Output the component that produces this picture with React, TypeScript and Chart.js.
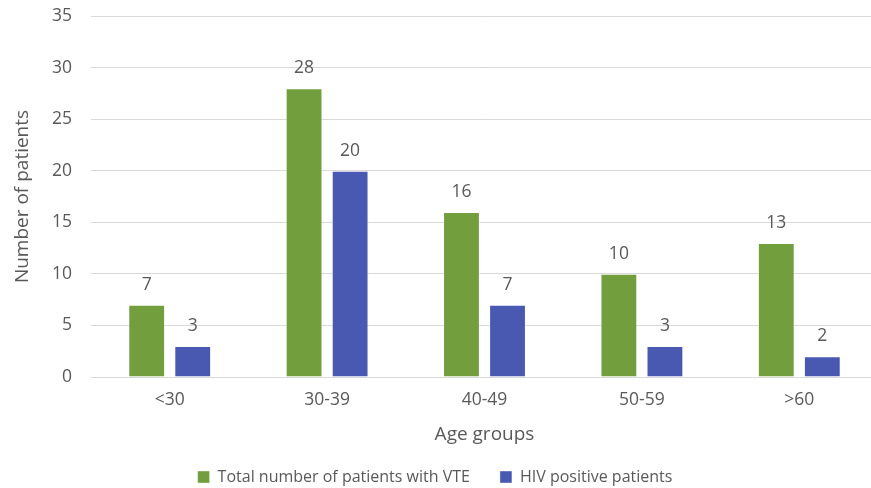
import React, { useEffect, useRef } from "react";
import { Chart, registerables } from "chart.js";

Chart.register(...registerables);

const categories = ["<30", "30-39", "40-49", "50-59", ">60"];
const totalVTE = [7, 28, 16, 10, 13];
const hivPositive = [3, 20, 7, 3, 2];
const seriesNames = ["Total number of patients with VTE", "HIV positive patients"];
const yTicks = [0, 5, 10, 15, 20, 25, 30, 35];

const FONT = "'Open Sans', sans-serif";
const TEXT = "#595959";

const dataLabels = {
  id: "dataLabels",
  afterDatasetsDraw(chart: any) {
    const ctx = chart.ctx;
    ctx.save();
    ctx.font = `17.5px ${FONT}`;
    ctx.fillStyle = TEXT;
    ctx.textAlign = "center";
    ctx.textBaseline = "middle";
    chart.data.datasets.forEach((ds: any, i: number) => {
      const meta = chart.getDatasetMeta(i);
      meta.data.forEach((bar: any, j: number) => {
        ctx.fillText(String(ds.data[j]), bar.x, bar.y - 20);
      });
    });
    ctx.restore();
  },
};

const legendFix = {
  id: "legendFix",
  beforeLayout(chart: any) {
    const l = chart.legend;
    if (l && !l.__patched) {
      const orig = l.fit;
      l.fit = function () {
        orig.call(this);
        this.height = 41;
      };
      l.__patched = true;
    }
  },
  afterLayout(chart: any) {
    const l = chart.legend;
    if (l) {
      l.left -= 4;
      l.right -= 4;
      l.top -= 8;
    }
  },
};

export default function App() {
  const ref = useRef<HTMLCanvasElement | null>(null);
  useEffect(() => {
    document.documentElement.style.overflow = "hidden";
    document.body.style.overflow = "hidden";
    const chart = new Chart(ref.current as HTMLCanvasElement, {
      type: "bar",
      data: {
        labels: categories,
        datasets: [
          {
            label: seriesNames[0],
            data: totalVTE,
            backgroundColor: "#739E3E",
            borderColor: "rgba(255,255,255,0.4)",
            borderWidth: 1,
          },
          {
            label: seriesNames[1],
            data: hivPositive,
            backgroundColor: "#4958B1",
            borderColor: "rgba(255,255,255,0.4)",
            borderWidth: 1,
          },
        ],
      },
      options: {
        animation: false,
        responsive: true,
        maintainAspectRatio: false,
        devicePixelRatio: 1,
        datasets: { bar: { categoryPercentage: 0.585, barPercentage: 0.8 } },
        layout: { padding: { top: 16, left: 0, right: 0, bottom: 0 } },
        plugins: {
          tooltip: { enabled: false },
          legend: {
            position: "bottom",
            labels: {
              boxWidth: 12,
              boxHeight: 12,
              padding: 30,
              color: TEXT,
              font: { family: FONT, size: 16 },
            },
          },
        },
        scales: {
          x: {
            grid: { display: false, drawTicks: false },
            border: { display: true, color: "#d9d9d9" },
            ticks: { color: TEXT, font: { family: FONT, size: 17.5 }, padding: 13 },
            title: {
              display: true,
              text: "Age groups",
              color: TEXT,
              font: { family: FONT, size: 19 },
              padding: { top: 0, bottom: 1 },
            },
            afterFit: (s: any) => {
              s.height = 70;
              s.paddingLeft = 0;
              s.paddingRight = 0;
            },
          },
          y: {
            min: 0,
            max: 35,
            afterBuildTicks: (s: any) => {
              s.ticks = yTicks.map((v) => ({ value: v }));
            },
            grid: { color: "#d9d9d9", drawTicks: false },
            border: { display: false },
            ticks: { color: TEXT, font: { family: FONT, size: 17.5 }, padding: 19 },
            title: {
              display: true,
              text: "Number of patients",
              color: TEXT,
              font: { family: FONT, size: 19 },
              padding: { top: 11, bottom: 0 },
            },
            afterFit: (s: any) => {
              s.width = 91;
              s.paddingTop = 0;
              s.paddingBottom = 0;
            },
          },
        },
      },
      plugins: [dataLabels, legendFix],
    });
    return () => chart.destroy();
  }, []);
  return (
    <div style={{ position: "fixed", left: 0, top: 0, width: 878, height: 488 }}>
      <canvas ref={ref} />
    </div>
  );
}
